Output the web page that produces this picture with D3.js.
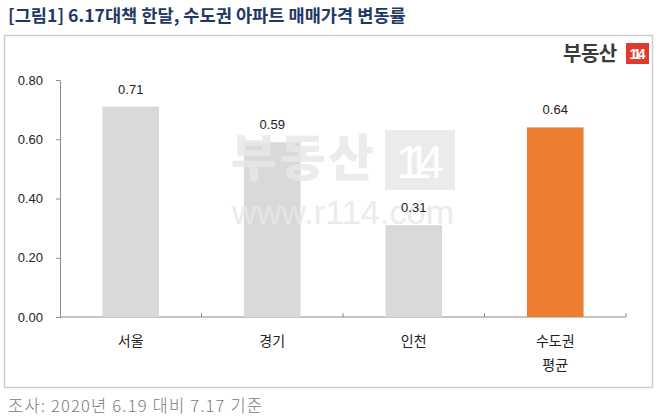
<!DOCTYPE html>
<html>
<head>
<meta charset="utf-8">
<script src="https://cdn.jsdelivr.net/npm/d3@7"></script>
<style>
  body { margin: 0; background: #fff; }
  svg text { font-family: "Liberation Sans", Arial, sans-serif; }
  .kr { font-family: "Noto Sans CJK KR", "Noto Sans", sans-serif; }
</style>
</head>
<body>
<div id="chart"></div>
<script>
// data
const regions = ["서울", "경기", "인천", "수도권\n평균"];
const changeRates = [0.71, 0.59, 0.31, 0.64];
const yTicks = [0, 0.2, 0.4, 0.6, 0.8];

const W = 660, H = 418;
const margin = { top: 80, right: 34, bottom: 101, left: 60 };
const width = W - margin.left - margin.right;
const height = H - margin.top - margin.bottom;

const svg = d3.select("#chart").append("svg")
  .attr("width", W).attr("height", H);

// title
svg.append("text")
  .attr("class", "kr")
  .attr("x", 8).attr("y", 22)
  .attr("font-size", 17.6).attr("font-weight", "bold")
  .attr("fill", "#1f3864")
  .text("[그림1] 6.17대책 한달, 수도권 아파트 매매가격 변동률");

// frame
svg.append("rect")
  .attr("x", 4.5).attr("y", 35.5)
  .attr("width", 648).attr("height", 352)
  .attr("fill", "none").attr("stroke", "#cfcfcf").attr("stroke-width", 1.5);

// watermark, drawn over the bars
function watermark(layer) {
  const wm = layer.append("g").attr("opacity", 0.85);
  wm.append("text")
    .attr("class", "kr")
    .attr("x", 231).attr("y", 176)
    .attr("font-size", 50).attr("font-weight", 900)
    .attr("textLength", 143)
    .attr("fill", "#e8e8e8")
    .text("부동산");
  wm.append("rect")
    .attr("x", 385).attr("y", 130).attr("width", 70).attr("height", 60)
    .attr("fill", "#e8e8e8");
  wm.append("text")
    .attr("x", 420).attr("y", 178)
    .attr("text-anchor", "middle")
    .attr("font-size", 46)
    .attr("textLength", 48)
    .attr("fill", "#fff")
    .text("114");
  wm.append("text")
    .attr("x", 232).attr("y", 224)
    .attr("font-size", 34)
    .attr("textLength", 222)
    .attr("fill", "#e8e8e8")
    .text("www.r114.com");
}

// logo
const logo = svg.append("g");
logo.append("text")
  .attr("class", "kr")
  .attr("x", 563).attr("y", 61)
  .attr("font-size", 20).attr("font-weight", "bold")
  .attr("letter-spacing", -0.5)
  .attr("fill", "#3a3a3a")
  .text("부동산");
logo.append("rect")
  .attr("x", 626).attr("y", 43).attr("width", 23).attr("height", 21)
  .attr("fill", "#e03a2f");
logo.append("text")
  .attr("x", 637.5).attr("y", 59)
  .attr("text-anchor", "middle")
  .attr("font-size", 14).attr("font-weight", "bold")
  .attr("textLength", 16)
  .attr("fill", "#fff")
  .text("114");

const g = svg.append("g")
  .attr("transform", `translate(${margin.left},${margin.top})`);

const x = d3.scaleBand()
  .domain(regions)
  .range([0, width])
  .paddingInner(0.6)
  .paddingOuter(0.3);

const y = d3.scaleLinear()
  .domain([0, 0.8])
  .range([height, 0]);

// y axis
const yAxis = g.append("g")
  .call(d3.axisLeft(y).tickValues(yTicks).tickFormat(d3.format(".2f")).tickSize(4).tickSizeOuter(0));
yAxis.select(".domain").attr("stroke", "#8c8c8c");
yAxis.selectAll(".tick line").attr("stroke", "#8c8c8c");
yAxis.selectAll("text")
  .attr("x", -17)
  .attr("font-size", 13)
  .attr("fill", "#222");

// x axis line with ticks between categories
const step = x.step();
const xAxisG = g.append("g").attr("transform", `translate(0,${height})`);
xAxisG.append("line")
  .attr("x1", 0).attr("x2", width)
  .attr("stroke", "#8c8c8c");
xAxisG.selectAll("line.tk")
  .data(regions)
  .join("line")
  .attr("class", "tk")
  .attr("x1", (d) => x(d) + x.bandwidth() / 2 + step / 2)
  .attr("x2", (d) => x(d) + x.bandwidth() / 2 + step / 2)
  .attr("y1", 0).attr("y2", -4)
  .attr("stroke", "#8c8c8c");

// category labels
xAxisG.selectAll("text.cat")
  .data(regions)
  .join("text")
  .attr("class", "cat kr")
  .attr("text-anchor", "middle")
  .attr("font-size", 14)
  .attr("fill", "#222")
  .each(function (d) {
    const t = d3.select(this);
    d.split("\n").forEach((line, i) => {
      t.append("tspan")
        .attr("x", x(d) + x.bandwidth() / 2)
        .attr("y", 29 + i * 24)
        .text(line);
    });
  });

// bars
const rows = regions.map((r, i) => ({ region: r, value: changeRates[i] }));
g.selectAll("rect.bar")
  .data(rows)
  .join("rect")
  .attr("class", "bar")
  .attr("x", (d) => x(d.region))
  .attr("y", (d) => y(d.value))
  .attr("width", x.bandwidth())
  .attr("height", (d) => height - y(d.value))
  .attr("fill", (d, i) => (i === rows.length - 1 ? "#ed7d31" : "#d9d9d9"));

watermark(svg);

// value labels
svg.append("g")
  .attr("transform", `translate(${margin.left},${margin.top})`)
  .selectAll("text.val")
  .data(rows)
  .join("text")
  .attr("class", "val")
  .attr("x", (d) => x(d.region) + x.bandwidth() / 2)
  .attr("y", (d) => y(d.value) - 13)
  .attr("text-anchor", "middle")
  .attr("font-size", 13)
  .attr("fill", "#222")
  .text((d) => d3.format(".2f")(d.value));

// footer
svg.append("text")
  .attr("class", "kr")
  .attr("x", 8).attr("y", 412)
  .attr("font-size", 16.5)
  .attr("font-weight", 300)
  .attr("textLength", 254)
  .attr("fill", "#7a7a7a")
  .text("조사: 2020년 6.19 대비 7.17 기준");
</script>
</body>
</html>
